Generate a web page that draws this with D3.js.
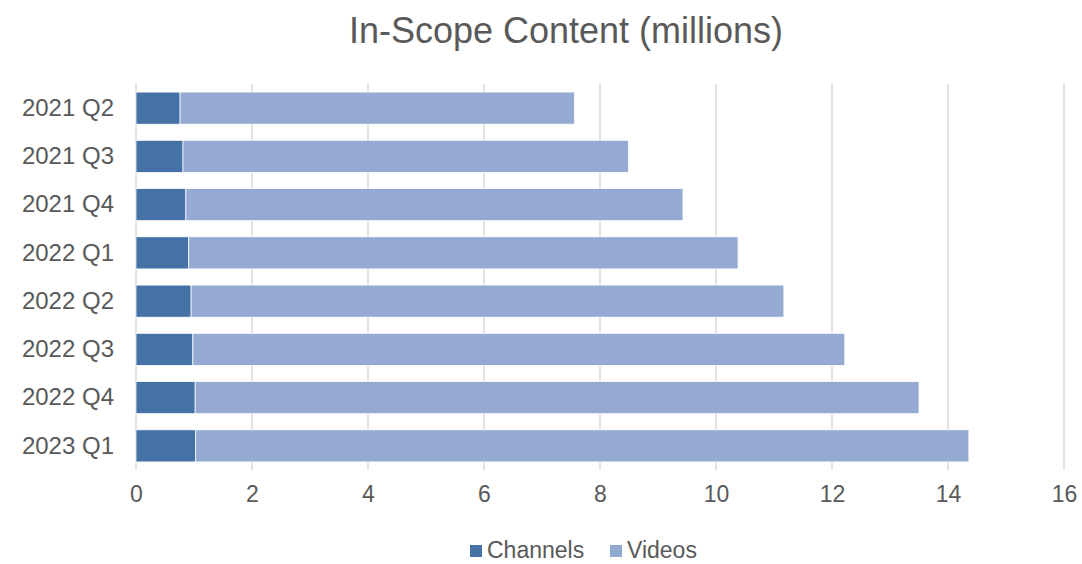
<!DOCTYPE html>
<html>
<head>
<meta charset="utf-8">
<script src="https://cdn.jsdelivr.net/npm/d3@7"></script>
<style>
  body { margin: 0; background: #fff; }
  svg { display: block; font-family: "Liberation Sans", Arial, sans-serif; }
</style>
</head>
<body>
<script>
// Values (millions)
const quarters = ["2021 Q2", "2021 Q3", "2021 Q4", "2022 Q1", "2022 Q2", "2022 Q3", "2022 Q4", "2023 Q1"];
const channels = [0.76, 0.81, 0.86, 0.91, 0.95, 0.98, 1.02, 1.03];
const videos = [6.80, 7.68, 8.57, 9.47, 10.22, 11.24, 12.48, 13.33];
const xTicks = [0, 2, 4, 6, 8, 10, 12, 14, 16];
const seriesNames = ["Channels", "Videos"];
const colors = ["#4472a7", "#94aad2"];

const width = 1082, height = 564;
const margin = {top: 84, right: 18, bottom: 94, left: 136};

const rows = quarters.map((q, i) => ({quarter: q, Channels: channels[i], Videos: videos[i]}));

const svg = d3.select("body").append("svg")
    .attr("width", width)
    .attr("height", height);

const x = d3.scaleLinear()
    .domain([0, 16])
    .range([margin.left, width - margin.right]);

const y = d3.scaleBand()
    .domain(quarters)
    .range([margin.top, height - margin.bottom])
    .paddingInner(0.335)
    .paddingOuter(0.1675);

const color = d3.scaleOrdinal()
    .domain(seriesNames)
    .range(colors);

// Title
svg.append("text")
    .attr("x", 566)
    .attr("y", 43)
    .attr("text-anchor", "middle")
    .attr("fill", "#595959")
    .style("font-size", "36px")
    .text("In-Scope Content (millions)");

// Vertical gridlines
svg.append("g")
  .selectAll("line")
  .data(xTicks)
  .join("line")
    .attr("x1", d => x(d))
    .attr("x2", d => x(d))
    .attr("y1", margin.top)
    .attr("y2", height - margin.bottom)
    .attr("stroke", "#d9d9d9")
    .attr("stroke-width", 1.5);

// Stacked bars
svg.append("g")
  .selectAll("g")
  .data(d3.stack().keys(seriesNames)(rows))
  .join("g")
    .attr("fill", d => color(d.key))
  .selectAll("rect")
  .data(d => d)
  .join("rect")
    .attr("x", d => x(d[0]))
    .attr("y", d => y(d.data.quarter))
    .attr("width", d => x(d[1]) - x(d[0]))
    .attr("height", y.bandwidth())
    .attr("stroke", "#fff")
    .attr("stroke-width", 0.75);

// X axis labels
const xAxis = svg.append("g")
    .attr("transform", `translate(0,${height - margin.bottom})`)
    .call(d3.axisBottom(x).tickValues(xTicks).tickSize(0).tickPadding(16))
    .attr("font-family", null)
    .attr("font-size", null);
xAxis.select(".domain").remove();
xAxis.selectAll("text")
    .attr("fill", "#595959")
    .style("font-size", "23px");

// Y axis labels
const yAxis = svg.append("g")
    .attr("transform", `translate(${margin.left},0)`)
    .call(d3.axisLeft(y).tickSize(0).tickPadding(22))
    .attr("font-family", null)
    .attr("font-size", null);
yAxis.select(".domain").remove();
yAxis.selectAll("text")
    .attr("fill", "#595959")
    .style("font-size", "24px");

// Legend
const legendPos = [470, 610];
const legend = svg.append("g")
  .selectAll("g")
  .data(seriesNames)
  .join("g")
    .attr("transform", (d, i) => `translate(${legendPos[i]},545)`);
legend.append("rect")
    .attr("width", 12)
    .attr("height", 12)
    .attr("fill", d => color(d));
legend.append("text")
    .attr("x", 17)
    .attr("y", 12.5)
    .attr("fill", "#595959")
    .style("font-size", "23px")
    .text(d => d);
</script>
</body>
</html>
